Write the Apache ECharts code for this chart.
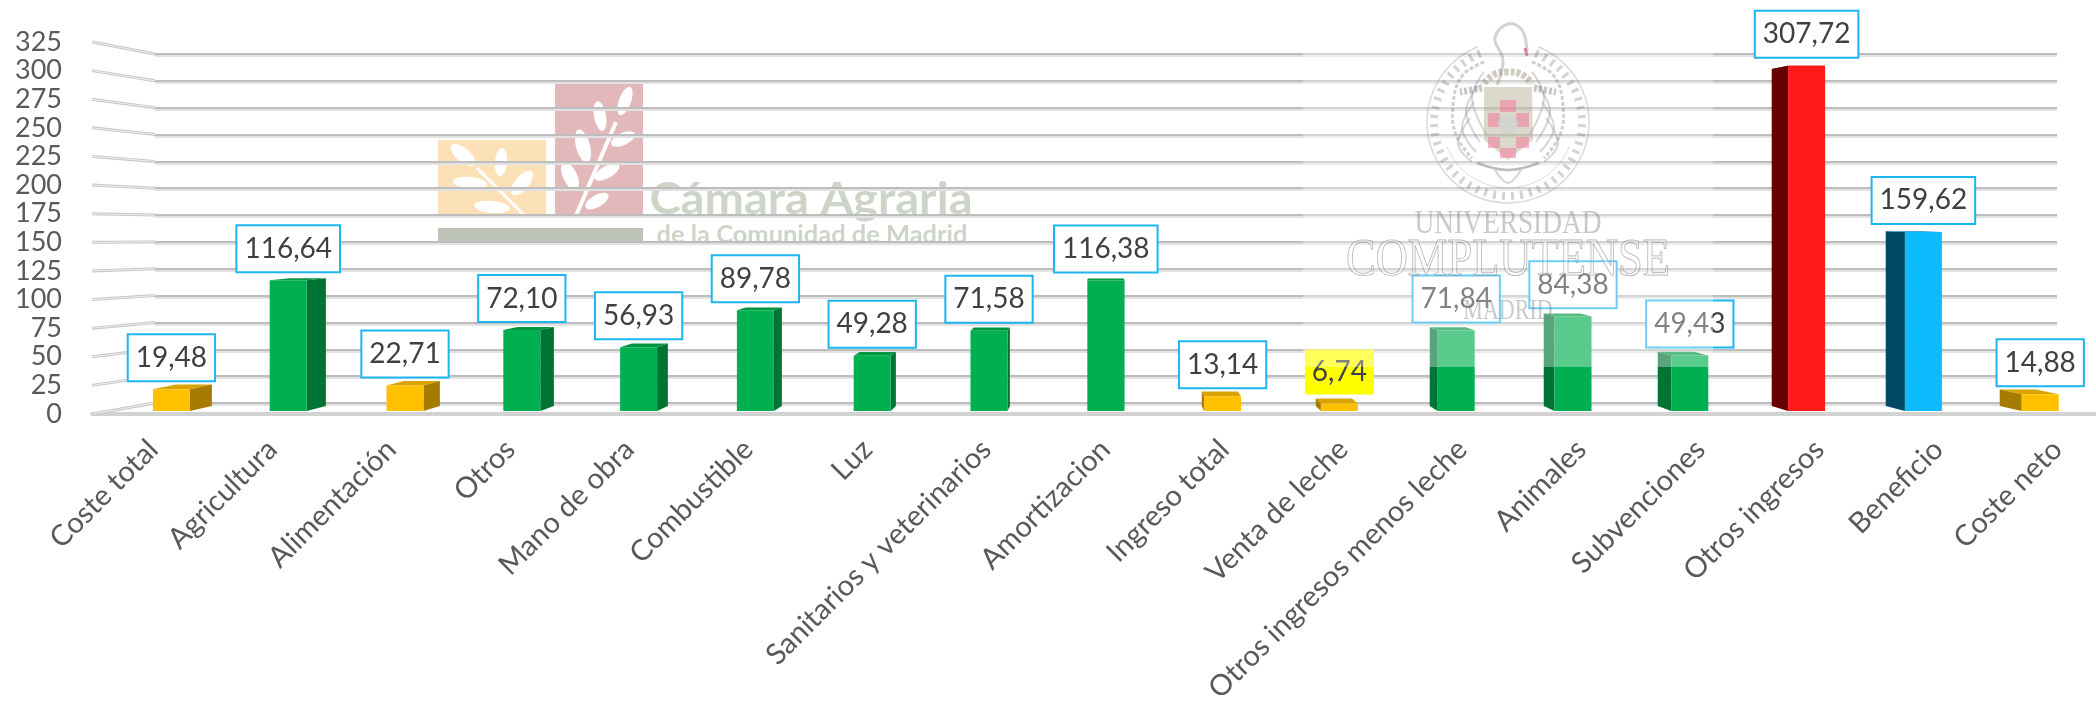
<!DOCTYPE html>
<html>
<head>
<meta charset="utf-8">
<title>Costes e ingresos</title>
<script src="https://cdn.jsdelivr.net/npm/echarts@6/dist/echarts.min.js"></script>
<style>
  html, body { margin: 0; padding: 0; background: #fff; }
  #chart { width: 2096px; height: 705px; }
</style>
</head>
<body>
<div id="chart"></div>
<script>
var categories = ['Coste total', 'Agricultura', 'Alimentación', 'Otros', 'Mano de obra', 'Combustible', 'Luz',
  'Sanitarios y veterinarios', 'Amortizacion', 'Ingreso total', 'Venta de leche', 'Otros ingresos menos leche',
  'Animales', 'Subvenciones', 'Otros ingresos', 'Beneficio', 'Coste neto'];
var values = [19.48, 116.64, 22.71, 72.10, 56.93, 89.78, 49.28, 71.58, 116.38, 13.14, 6.74, 71.84, 84.38, 49.43, 307.72, 159.62, 14.88];
var groups = ['total', 'part', 'total', 'part', 'part', 'part', 'part', 'part', 'part', 'total', 'total', 'part', 'part', 'part', 'income', 'profit', 'total'];
var highlighted = ['Venta de leche'];
var axisTicks = [0, 25, 50, 75, 100, 125, 150, 175, 200, 225, 250, 275, 300, 325];

var palette = {
  total: { face: '#FFC000', side: '#A67C00', top: '#D9A300' },
  part: { face: '#00B050', side: '#007434', top: '#00953F' },
  income: { face: '#FF1919', side: '#660000', top: '#A00000' },
  profit: { face: '#0DBBFF', side: '#004A66', top: '#0A86B8' }
};
var fontFamily = 'Lato, "Noto Sans", sans-serif';
var serif = '"Liberation Serif", serif';
var yMax = 325;

// the picture is a 3D Excel chart: back wall, front edge, bars and category labels each have their own scale
var barGrid = { left: 113, top: 46.4, width: 1985.6, height: 364.6, outerBoundsMode: 'none' };
var frontGrid = { left: 92, top: 42, width: 2004, height: 372, outerBoundsMode: 'none' };
var backGrid = { left: 155, top: 54, width: 1902, height: 349, outerBoundsMode: 'none' };
var labelGrid = { left: 111.5, top: 46.4, width: 2023, height: 364.6, outerBoundsMode: 'none' };
var vanish = [1106, 199];
var depth = 0.024;
var faceWidth = 37;

function backY(v) { return backGrid.top + backGrid.height * (1 - v / yMax); }
function toBack(p) { return [p[0] + (vanish[0] - p[0]) * depth, p[1] + (vanish[1] - p[1]) * depth]; }
function labelText(v) { return v.toFixed(2).replace('.', ','); }

function renderBar(params, api) {
  var i = api.value(0), v = api.value(1);
  var c = palette[groups[i]];
  var base = api.coord([i, 0]), top = api.coord([i, v]);
  var x0 = base[0] - faceWidth / 2, x1 = base[0] + faceWidth / 2;
  var edge = base[0] < vanish[0] ? x1 : x0;
  var a = [x0, top[1]], b = [x1, top[1]];
  var sideTop = [edge, top[1]], sideBase = [edge, base[1]];
  var yellow = highlighted.indexOf(categories[i]) >= 0;
  return {
    type: 'group',
    children: [
      { type: 'polygon', shape: { points: [a, b, toBack(b), toBack(a)] }, style: { fill: c.top } },
      { type: 'polygon', shape: { points: [sideTop, toBack(sideTop), toBack(sideBase), sideBase] }, style: { fill: c.side } },
      { type: 'rect', shape: { x: x0, y: top[1], width: faceWidth, height: base[1] - top[1] }, style: { fill: c.face } },
      {
        type: 'text', z2: 20,
        style: {
          x: base[0], y: top[1] - 9, align: 'center', verticalAlign: 'bottom',
          text: labelText(v), fill: '#404040', font: '28px ' + fontFamily, lineHeight: 29,
          backgroundColor: yellow ? '#FFFF00' : '#fff',
          borderColor: yellow ? 'transparent' : '#1CB5F0', borderWidth: 2, padding: [8, 7, 8, 7]
        }
      }
    ]
  };
}

function renderWall(params, api) {
  var v = api.value(0);
  var p = api.coord([0, v]);
  var q = [backGrid.left, backY(v)];
  return {
    type: 'group',
    children: [
      { type: 'line', shape: { x1: p[0], y1: p[1], x2: q[0], y2: q[1] }, style: { stroke: '#c6c6c6', lineWidth: 3 } },
      { type: 'line', shape: { x1: p[0], y1: p[1], x2: q[0], y2: q[1] }, style: { stroke: '#f0f0f0', lineWidth: 1 } }
    ]
  };
}

// watermark helpers
function rect(x, y, w, h, fill) {
  return { type: 'rect', silent: true, shape: { x: x, y: y, width: w, height: h }, style: { fill: fill } };
}
function leaf(x, y, rx, ry, deg) {
  return { type: 'ellipse', silent: true, x: x, y: y, rotation: deg * Math.PI / 180, shape: { cx: 0, cy: 0, rx: rx, ry: ry }, style: { fill: '#fff' } };
}
function stroke(points, color, width, dash) {
  return { type: 'polyline', silent: true, shape: { points: points, smooth: 0.4 }, style: { stroke: color, lineWidth: width, fill: null, lineDash: dash } };
}
function word(text, cx, base, size, family, fill, scaleX, strokeColor, weight) {
  return {
    type: 'text', silent: true, x: cx, y: base, scaleX: scaleX,
    style: { text: text, font: (weight || 'normal') + ' ' + size + 'px ' + family, fill: fill, align: 'center', verticalAlign: 'bottom', stroke: strokeColor, lineWidth: strokeColor ? 1 : 0 }
  };
}
function withZ(list, z) {
  list.forEach(function(el) { el.z = z; });
  return list;
}

var camaraLogo = withZ([
  rect(438, 140, 108, 78, '#FBE0B8'),
  rect(555, 82, 88, 136, '#E3B8BB'),
  rect(438, 228, 205, 16, '#BDC4B7'),
  { type: 'line', silent: true, shape: { x1: 575, y1: 218, x2: 616, y2: 122 }, style: { stroke: '#fff', lineWidth: 4 } },
  { type: 'line', silent: true, shape: { x1: 477, y1: 168, x2: 527, y2: 218 }, style: { stroke: '#fff', lineWidth: 3 } },
  leaf(625, 101, 15, 6, 70), leaf(600, 116, 15, 6, 100), leaf(623, 139, 13, 6, 25),
  leaf(583, 146, 17, 7, 105), leaf(607, 172, 14, 6, 30), leaf(570, 176, 15, 7, 115), leaf(597, 201, 13, 6, 30),
  leaf(463, 155, 15, 7, -40), leaf(501, 162, 14, 6, 85), leaf(522, 183, 15, 7, 50),
  leaf(470, 183, 17, 6, -5), leaf(492, 207, 18, 6, -5),
  word('Cámara Agraria', 811, 222, 44, fontFamily, '#CDD4C8', 1.07, null, 'bold'),
  word('de la Comunidad de Madrid', 812, 247, 24, fontFamily, '#CDD4C8', 1.06, null, 'bold')
], -1);

var featherL = [[1484, 72], [1478, 86], [1474, 102], [1470, 118]];
function wing(side) {
  var m = function(x) { return side < 0 ? x : 3016 - x; };
  var list = [
    stroke([[m(1484), 62], [m(1462), 76], [m(1453), 105], [m(1456), 135], [m(1472), 158]], 'rgba(110,110,110,0.32)', 3, [4, 2]),
    stroke([[m(1482), 88], [m(1460), 92]], 'rgba(90,90,90,0.35)', 7, [3, 2])
  ];
  featherL.forEach(function(p, k) {
    list.push(stroke([[m(p[0]), p[1]], [m(p[0] - 12), p[1] + 26], [m(p[0] + 2), p[1] + 62 - k * 6]], 'rgba(120,120,120,0.3)', 2));
  });
  return list;
}

var crest = withZ([
  { type: 'arc', silent: true, shape: { cx: 1508, cy: 122, r: 81, startAngle: -Math.PI / 2 + 0.38, endAngle: Math.PI * 1.5 - 0.38 }, style: { stroke: 'rgba(120,120,120,0.28)', lineWidth: 1.5, fill: null } },
  { type: 'arc', silent: true, shape: { cx: 1508, cy: 122, r: 74, startAngle: -Math.PI / 2 + 0.38, endAngle: Math.PI * 1.5 - 0.38 }, style: { stroke: 'rgba(110,110,110,0.3)', lineWidth: 8, fill: null, lineDash: [3, 6] } },
  { type: 'arc', silent: true, shape: { cx: 1508, cy: 122, r: 66, startAngle: Math.PI * 0.12, endAngle: Math.PI * 0.88 }, style: { stroke: 'rgba(120,120,120,0.25)', lineWidth: 1, fill: null } },
  stroke([[1497, 85], [1503, 60], [1495, 38], [1508, 24], [1522, 30], [1527, 52]], 'rgba(110,110,110,0.3)', 3),
  stroke([[1525, 48], [1527, 56]], 'rgba(200,50,80,0.55)', 3),
  stroke([[1477, 163], [1508, 170], [1539, 163]], 'rgba(90,90,90,0.4)', 2.5),
  stroke([[1495, 170], [1508, 183], [1521, 170]], 'rgba(110,110,110,0.3)', 2),
  stroke([[1484, 83], [1495, 74], [1508, 72], [1521, 74], [1532, 83]], 'rgba(150,140,110,0.45)', 7, [4, 2]),
  { type: 'polygon', silent: true, shape: { points: [[1484, 87], [1532, 87], [1533, 140], [1508, 160], [1484, 140]] }, style: { fill: 'rgba(165,160,125,0.4)' } },
  rect(1500, 100, 16, 12, 'rgba(240,130,160,0.6)'), rect(1488, 113, 12, 14, 'rgba(240,130,160,0.6)'), rect(1516, 113, 13, 14, 'rgba(240,130,160,0.6)'),
  rect(1488, 137, 12, 11, 'rgba(240,130,160,0.6)'), rect(1516, 137, 13, 11, 'rgba(240,130,160,0.6)'), rect(1500, 148, 16, 10, 'rgba(240,130,160,0.6)'),
  { type: 'ellipse', silent: true, shape: { cx: 1508, cy: 124, rx: 10, ry: 10 }, style: { fill: 'rgba(210,210,210,0.8)' } },
  word('UNIVERSIDAD', 1508, 241, 33, serif, 'rgba(120,120,120,0.4)', 0.83),
  word('COMPLUTENSE', 1508, 288, 53, serif, 'rgba(255,255,255,0.25)', 0.84, 'rgba(100,100,100,0.5)'),
  word('MADRID', 1508, 326, 29, serif, 'rgba(120,120,120,0.4)', 0.76)
].concat(wing(-1), wing(1)), 101);

var chart = echarts.init(document.getElementById('chart'), null, { renderer: 'canvas' });
chart.setOption({
  animation: false,
  backgroundColor: '#fff',
  textStyle: { fontFamily: fontFamily },
  graphic: { elements: camaraLogo.concat(withZ([rect(1303, 0, 410, 367, 'rgba(255,255,255,0.35)')], 100), crest) },
  grid: [barGrid, frontGrid, backGrid, labelGrid],
  xAxis: [
    { gridIndex: 0, type: 'category', data: categories, axisLine: { show: false }, axisTick: { show: false }, axisLabel: { show: false } },
    { gridIndex: 1, type: 'value', min: 0, max: 1, show: true, axisTick: { show: false }, axisLabel: { show: false }, splitLine: { show: false },
      axisLine: { show: true, onZero: false, lineStyle: { color: '#d2d2d2', width: 4 } } },
    { gridIndex: 2, type: 'value', min: 0, max: 1, show: false },
    {
      gridIndex: 3, type: 'category', data: categories,
      axisLine: { show: false }, axisTick: { show: false },
      axisLabel: { interval: 0, rotate: 45, margin: 16, padding: [0, 25, 0, 0], color: '#595959', fontSize: 29, fontFamily: fontFamily }
    }
  ],
  yAxis: [
    { gridIndex: 0, type: 'value', min: 0, max: yMax, show: false },
    {
      gridIndex: 1, type: 'value', min: 0, max: yMax, interval: 25,
      axisLine: { show: false }, axisTick: { show: false }, splitLine: { show: false },
      axisLabel: { margin: 30, color: '#595959', fontSize: 27, fontFamily: fontFamily }
    },
    {
      gridIndex: 2, type: 'value', min: 0, max: yMax, interval: 25,
      axisLine: { show: false }, axisTick: { show: false }, axisLabel: { show: false },
      splitLine: { show: true, lineStyle: { color: '#bdbdbd', width: 2, shadowColor: '#e2e2e2', shadowOffsetY: 2, shadowBlur: 0 } }
    },
    { gridIndex: 3, type: 'value', min: 0, max: yMax, show: false }
  ],
  series: [
    { type: 'custom', xAxisIndex: 1, yAxisIndex: 1, renderItem: renderWall, data: axisTicks.map(function(t) { return [t]; }), encode: { y: 0 }, silent: true, z: 1 },
    { type: 'custom', xAxisIndex: 0, yAxisIndex: 0, renderItem: renderBar, data: values.map(function(v, i) { return [i, v]; }), encode: { x: 0, y: 1 }, clip: false, z: 3 }
  ]
});
window.addEventListener('resize', function() { chart.resize(); });
</script>
</body>
</html>
